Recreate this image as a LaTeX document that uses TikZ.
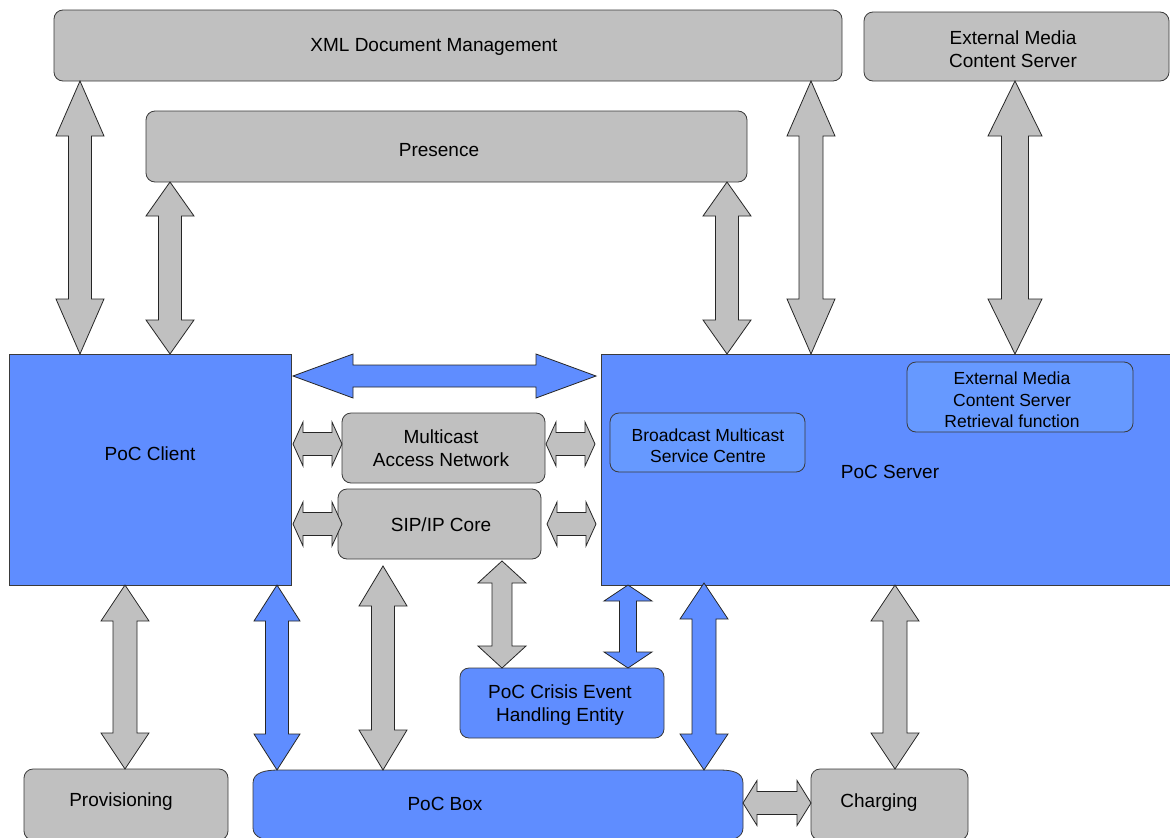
\documentclass[tikz,border=0pt]{standalone}
\usepackage{fontspec}
\setmainfont{Liberation Sans}
\usetikzlibrary{calc}
\definecolor{gfill}{HTML}{C0C0C0}
\definecolor{bfill}{HTML}{5F8DFF}
\definecolor{bfilltwo}{HTML}{6699FF}
\definecolor{edgec}{HTML}{3A3A3A}
\tikzset{
  gbox/.style={draw=edgec, fill=gfill, line width=0.8pt, rounded corners=9pt, inner sep=0pt, outer sep=0pt},
  bbox/.style={draw=edgec, fill=bfill, line width=0.8pt, inner sep=0pt, outer sep=0pt},
  ibox/.style={draw=edgec, fill=bfilltwo, line width=0.8pt, rounded corners=9pt, inner sep=0pt, outer sep=0pt},
  txt/.style={inner sep=0pt, align=center, yshift=-2pt, font=\fontsize{19}{22.5}\selectfont},
  garr/.style={draw=black!85, fill=gfill, line width=0.8pt},
  barr/.style={draw=black!85, fill=bfill, line width=0.8pt},
}
% vertical double block arrow: style, top tip, bottom tip, head length, head half width, shaft half width
\newcommand\vdarr[6]{%
  \path[#1] let \p1=#2, \p2=#3 in
  (\x1,\y1) -- (\x1+#5pt,\y1-#4pt) -- (\x1+#6pt,\y1-#4pt) -- (\x1+#6pt,\y2+#4pt)
  -- (\x1+#5pt,\y2+#4pt) -- (\x1,\y2) -- (\x1-#5pt,\y2+#4pt) -- (\x1-#6pt,\y2+#4pt)
  -- (\x1-#6pt,\y1-#4pt) -- (\x1-#5pt,\y1-#4pt) -- cycle;}
% horizontal double block arrow: style, left tip, right tip, head length, head half width, shaft half width
\newcommand\hdarr[6]{%
  \path[#1] let \p1=#2, \p2=#3 in
  (\x1,\y1) -- (\x1+#4pt,\y1+#5pt) -- (\x1+#4pt,\y1+#6pt) -- (\x2-#4pt,\y1+#6pt)
  -- (\x2-#4pt,\y1+#5pt) -- (\x2,\y1) -- (\x2-#4pt,\y1-#5pt) -- (\x2-#4pt,\y1-#6pt)
  -- (\x1+#4pt,\y1-#6pt) -- (\x1+#4pt,\y1-#5pt) -- cycle;}
\begin{document}
\begin{tikzpicture}[x=1pt,y=-1pt]
\useasboundingbox[fill=white] (0,0) rectangle (1170,838);
% boxes
\node[gbox, minimum width=788pt, minimum height=71pt] (xml) at (448,45.5) {};
\node[txt] (xmlT) at (434,45) {XML Document Management};
\node[gbox, minimum width=601pt, minimum height=71pt] (pres) at (446.5,146.5) {};
\node[txt] (presT) at (439,148) {Presence};
\node[gbox, minimum width=305pt, minimum height=69pt] (ems) at (1016.5,46.5) {};
\node[txt] (emsT) at (1013,47) {External Media\\Content Server};
\node[bbox, minimum width=282pt, minimum height=231pt] (client) at (150,469.5) {};
\node[txt] (clientT) at (150,452) {PoC Client};
\node[bbox, minimum width=575pt, minimum height=231pt] (server) at (888.5,469.5) {};
\node[txt] (serverT) at (890,470) {PoC Server};
\node[ibox, minimum width=195pt, minimum height=59pt] (bmsc) at (707.5,442.5) {};
\node[txt, font=\fontsize{17.5}{21}\selectfont] (bmscT) at (708,444) {Broadcast Multicast\\Service Centre};
\node[ibox, minimum width=226pt, minimum height=70pt] (emcsr) at (1020,397) {};
\node[txt, font=\fontsize{17.5}{21.5}\selectfont] (emcsrT) at (1012,398) {External Media\\Content Server\\Retrieval function};
\node[gbox, minimum width=203pt, minimum height=70pt] (mcast) at (443.5,448) {};
\node[txt] (mcastT) at (441,446) {Multicast\\Access Network};
\node[gbox, minimum width=203pt, minimum height=70pt] (sip) at (439.5,524) {};
\node[txt] (sipT) at (441,523) {SIP/IP Core};
\node[gbox, fill=bfill, minimum width=204pt, minimum height=70pt] (crisis) at (562,703) {};
\node[txt] (crisisT) at (560,703) {PoC Crisis Event\\Handling Entity};
\node[gbox, minimum width=204pt, minimum height=71pt] (prov) at (126,804.5) {};
\node[txt] (provT) at (121,800) {Provisioning};
\node[gbox, minimum width=157pt, minimum height=71pt] (charg) at (889.5,804.5) {};
\node[txt] (chargT) at (879,801) {Charging};
% PoC Box
\node[inner sep=0pt, outer sep=0pt, minimum width=490pt, minimum height=70pt] (pocbox) at (498,805) {};
\draw[draw=edgec, fill=bfill, line width=0.8pt]
  (253,828) -- (253,783) .. controls (253,772) and (266,770) .. (279,770) -- (719,770)
  .. controls (732,770) and (743,772) .. (743,783) -- (743,828)
  .. controls (743,838) and (732,841) .. (719,841) -- (279,841)
  .. controls (266,841) and (253,838) .. (253,828) -- cycle;
\node[txt] (pocboxT) at (445,802) {PoC Box};
% top arrows
\vdarr{garr}{(80,0 |- xml.south)}{(80,0 |- client.north)}{55}{24}{11.5}
\vdarr{garr}{(170,0 |- pres.south)}{(170,0 |- client.north)}{34}{24}{11.5}
\vdarr{garr}{(727,0 |- pres.south)}{(727,0 |- server.north)}{34}{24}{11.5}
\vdarr{garr}{(811,0 |- xml.south)}{(811,0 |- server.north)}{55}{24}{12}
\vdarr{garr}{(1015,0 |- ems.south)}{(1015,0 |- server.north)}{55}{27}{13.5}
% middle horizontal arrows
\hdarr{barr}{($(client.east |- 0,376)+(2,0)$)}{($(server.west |- 0,376)+(-5,0)$)}{60}{22}{11}
\hdarr{garr}{($(client.east |- 0,444)+(2,0)$)}{(mcast.west |- 0,444)}{10}{22}{11.5}
\hdarr{garr}{($(mcast.east |- 0,444)+(1,0)$)}{($(server.west |- 0,444)+(-6,0)$)}{10}{22}{11.5}
\hdarr{garr}{($(client.east |- 0,524)+(2,0)$)}{($(sip.west |- 0,524)+(4,0)$)}{10}{22}{11.5}
\hdarr{garr}{($(sip.east |- 0,524)+(6,0)$)}{($(server.west |- 0,524)+(-5,0)$)}{10}{22}{11.5}
% bottom arrows
\vdarr{garr}{(125,0 |- client.south)}{(125,0 |- prov.north)}{36}{24}{12}
\vdarr{barr}{(277,0 |- client.south)}{(277,0 |- pocbox.north)}{36}{23}{11.5}
\vdarr{garr}{($(383,0 |- sip.south)+(0,7)$)}{(383,0 |- pocbox.north)}{40}{24}{11.5}
\vdarr{garr}{($(502,0 |- sip.south)+(0,2)$)}{(502,0 |- crisis.north)}{22}{24}{10}
\vdarr{barr}{(628,0 |- server.south)}{(628,0 |- crisis.north)}{16}{24}{8.5}
\vdarr{barr}{($(704,0 |- server.south)+(0,-2)$)}{(704,0 |- pocbox.north)}{36}{24}{12}
\vdarr{garr}{(895,0 |- server.south)}{(895,0 |- charg.north)}{36}{24}{12}
\hdarr{garr}{(pocbox.east |- 0,803)}{(charg.west |- 0,803)}{14}{22.5}{11.5}
\end{tikzpicture}
\end{document}
